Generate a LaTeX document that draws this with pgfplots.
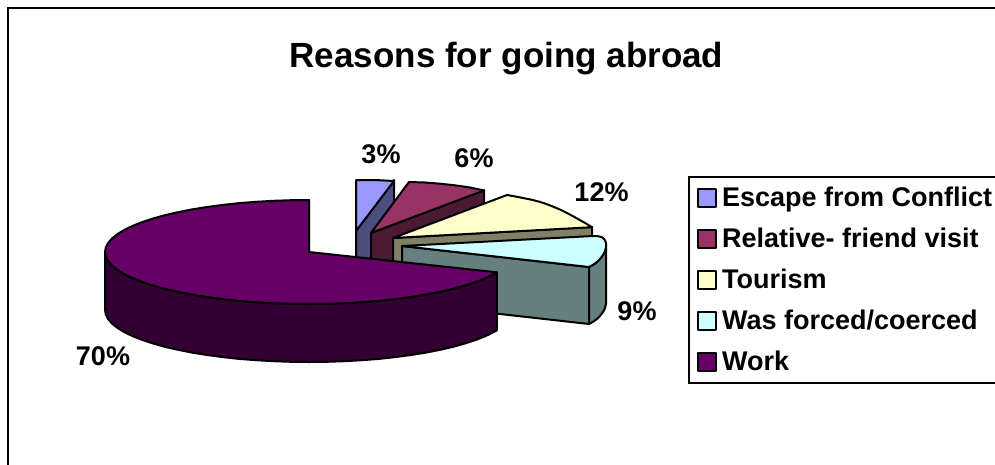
\documentclass[border=0pt]{standalone}
\usepackage{fontspec}
\setmainfont{Liberation Sans}
\usepackage{pgfplots}
\pgfplotsset{compat=1.18}
\definecolor{escTop}{HTML}{9999FF}
\definecolor{escSide}{HTML}{4D4D80}
\definecolor{relTop}{HTML}{993366}
\definecolor{relSide}{HTML}{4D1A33}
\definecolor{touTop}{HTML}{FFFFCC}
\definecolor{touSide}{HTML}{808066}
\definecolor{forTop}{HTML}{CCFFFF}
\definecolor{forSide}{HTML}{668080}
\definecolor{worTop}{HTML}{660066}
\definecolor{worSide}{HTML}{330033}
\begin{document}
\begin{tikzpicture}[x=1pt,y=1pt]
\useasboundingbox (0,0) rectangle (995,464);
\clip (0,0) rectangle (995,464);
\begin{axis}[
    at={(0pt,0pt)}, anchor=south west,
    scale only axis, width=995pt, height=464pt,
    xmin=0, xmax=995, ymin=0, ymax=464,
    y dir=reverse,
    hide axis,
    face/.style={draw=black, line width=2pt, line join=round, fill=#1},
    legend image code/.code={\draw[#1] (0pt,-9pt) rectangle (18pt,9pt);},
    legend cell align=left,
    legend style={
        at={(0.6915,0.6207)}, anchor=north west,
        draw=black, line width=2pt,
        font=\fontsize{27}{27}\selectfont\bfseries,
        row sep=15pt, column sep=5pt, inner xsep=8pt, inner ysep=8pt,
        nodes={inner sep=0pt, text height=21pt, text depth=5pt},
    },
]
% frame, only left and top are in the picture
\addplot[forget plot, black, line width=2.5pt] coordinates {(8,470) (8,8) (1000,8)};

% escape from conflict
\addplot[forget plot, face=escSide] coordinates {(356,231) (394,180) (394,238) (356,289)} -- cycle;
\addplot[face=escTop] coordinates {(356,180) (375,180) (394,181) (356,231)} -- cycle;
\addlegendentry{Escape from Conflict\hspace{20pt}}

% relative- friend visit
\addplot[forget plot, face=relSide] coordinates {(371,233) (484,190) (484,248) (371,291)} -- cycle;
\addplot[face=relTop] coordinates {(409,182) (425,182.5) (440,183.7) (455,185.3) (470,187.5) (484,190.5) (371,233)} -- cycle;
\addlegendentry{Relative- friend visit}

% tourism
\addplot[forget plot, face=touSide] coordinates {(393,238) (592,227) (592,285) (393,296)} -- cycle;
\addplot[face=touTop] coordinates {(507,195) (515,196.4) (523,198) (532,199.8) (540,201.9) (547,204.2) (554,207) (561,210) (567,213) (573,216.2) (579,219.6) (586,223.5) (592,227.2) (393,238)} -- cycle;
\addlegendentry{Tourism}

% was forced/coerced
\addplot[forget plot, face=forSide] coordinates {(402,246) (589,267) (589,324) (402,303)} -- cycle;
\addplot[forget plot, face=forSide] coordinates {(589,267) (593,264.8) (597,262) (600,259) (603,255) (605,251) (606,247) (606,304) (605,308) (603,312) (600,316) (597,319) (593,321.8) (589,324)} -- cycle;
\addplot[face=forTop] coordinates {(402,246) (593,236) (598,236.2) (602,237.2) (604.5,239.5) (606,243) (606,247) (605,251) (603,255) (600,259) (597,262) (593,264.8) (589,267)} -- cycle;
\addlegendentry{Was forced/coerced}

% work
\addplot[forget plot, face=worSide] coordinates {
    (105,252) (105.8,256.5) (108.1,261) (112,265.5) (117.3,269.8) (124.1,274) (132.3,278)
    (141.9,281.8) (152.7,285.4) (164.8,288.8) (177.9,291.8) (192,294.6) (207,297)
    (222.8,299.1) (239.2,300.9) (256.2,302.2) (273.6,303.2) (291.2,303.8) (309,304)
    (326.8,303.8) (344.4,303.2) (361.8,302.2) (378.8,300.9) (395.2,299.1) (411,297)
    (426,294.6) (440.1,291.8) (453.2,288.8) (465.3,285.4) (476.1,281.8) (485.7,278)
    (493.9,274) (496.8,272.3)
    (496.8,330.3) (493.9,332) (485.7,336) (476.1,339.8) (465.3,343.4) (453.2,346.8)
    (440.1,349.8) (426,352.6) (411,355) (395.2,357.1) (378.8,358.9) (361.8,360.2)
    (344.4,361.2) (326.8,361.8) (309,362) (291.2,361.8) (273.6,361.2) (256.2,360.2)
    (239.2,358.9) (222.8,357.1) (207,355) (192,352.6) (177.9,349.8) (164.8,346.8)
    (152.7,343.4) (141.9,339.8) (132.3,336) (124.1,332) (117.3,327.8) (112,323.5)
    (108.1,319) (105.8,314.5) (105,310)} -- cycle;
\addplot[face=worTop] coordinates {
    (309,252) (309,200) (291.2,200.2) (273.6,200.8) (256.2,201.8) (239.2,203.1) (222.8,204.9)
    (207,207) (192,209.4) (177.9,212.2) (164.8,215.2) (152.7,218.6) (141.9,222.2)
    (132.3,226) (124.1,230) (117.3,234.2) (112,238.5) (108.1,243) (105.8,247.5)
    (105,252) (105.8,256.5) (108.1,261) (112,265.5) (117.3,269.8) (124.1,274) (132.3,278)
    (141.9,281.8) (152.7,285.4) (164.8,288.8) (177.9,291.8) (192,294.6) (207,297)
    (222.8,299.1) (239.2,300.9) (256.2,302.2) (273.6,303.2) (291.2,303.8) (309,304)
    (326.8,303.8) (344.4,303.2) (361.8,302.2) (378.8,300.9) (395.2,299.1) (411,297)
    (426,294.6) (440.1,291.8) (453.2,288.8) (465.3,285.4) (476.1,281.8) (485.7,278)
    (493.9,274) (496.8,272.3)} -- cycle;
\addlegendentry{Work}

\node[anchor=base, font=\fontsize{35}{35}\selectfont\bfseries] at (axis cs:506.5,67) {Reasons for going abroad};
\begin{scope}[every node/.style={anchor=base, font=\fontsize{27}{27}\selectfont\bfseries}]
\node at (axis cs:381,163) {3\%};
\node at (axis cs:474,167) {6\%};
\node at (axis cs:601.5,201) {12\%};
\node at (axis cs:637,320) {9\%};
\node at (axis cs:103,365) {70\%};
\end{scope}
\end{axis}
\end{tikzpicture}
\end{document}
